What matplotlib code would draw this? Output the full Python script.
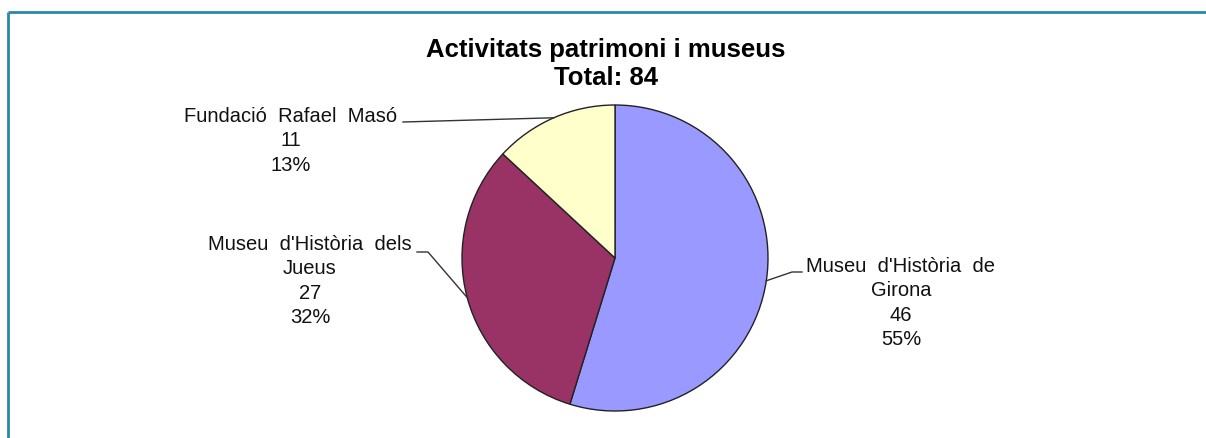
import numpy as np
import matplotlib
matplotlib.use("Agg")
import matplotlib.pyplot as plt

plt.rcParams['font.family'] = ['Liberation Sans', 'DejaVu Sans']

title = "Activitats patrimoni i museus"
labels = ["Museu  d'Història  de\nGirona", "Museu  d'Història  dels\nJueus", "Fundació  Rafael  Masó"]
values = [46, 27, 11]
colors = ["#9999ff", "#993366", "#ffffcc"]

W, H = 1206, 438
total = sum(values)

fig = plt.figure(figsize=(W / 100, H / 100), dpi=100)
ax = fig.add_axes([0, 0, 1, 1])


def Y(y):
    # pixel row (from top) -> data y
    return H - y


cx, cy, r = 615, Y(258), 153
wedges, _ = ax.pie(values, colors=colors, startangle=90, counterclock=False,
                   center=(cx, cy), radius=r,
                   wedgeprops=dict(edgecolor="#222222", linewidth=1.0))
ax.set_xlim(0, W)
ax.set_ylim(0, H)
ax.set_aspect("auto")
ax.axis("off")

# title
ax.text(606, Y(64), title + "\nTotal: " + str(total), ha="center", va="center",
        fontsize=18.5, fontweight="bold", linespacing=1.22)

# label blocks: (center x, center y, leader line start points)
label_pos = [(901, 303), (310, 281), (291, 141)]
leaders = [[(802, 272), (792, 272)], [(417, 252), (428, 252)], [(403, 122)]]

for w, lab, v, (lx, ly), pts in zip(wedges, labels, values, label_pos, leaders):
    pct = round(100 * v / total)
    ax.text(lx, Y(ly), lab + "\n" + str(v) + "\n" + str(pct) + "%", ha="center", va="center",
            fontsize=14.5, linespacing=1.35, color="#111111")
    mid = np.deg2rad((w.theta1 + w.theta2) / 2)
    ex, ey = cx + r * np.cos(mid), cy + r * np.sin(mid)
    xs = [p[0] for p in pts] + [ex]
    ys = [Y(p[1]) for p in pts] + [ey]
    ax.plot(xs, ys, color="#333333", lw=1.0)

# frame lines top and left
ax.plot([7.5, W], [Y(11.5), Y(11.5)], color="#2a8aa6", lw=2, solid_capstyle="butt")
ax.plot([7.5, 7.5], [Y(11.5), 0], color="#2a8aa6", lw=2, solid_capstyle="butt")

fig.savefig("out.png", dpi=100)
